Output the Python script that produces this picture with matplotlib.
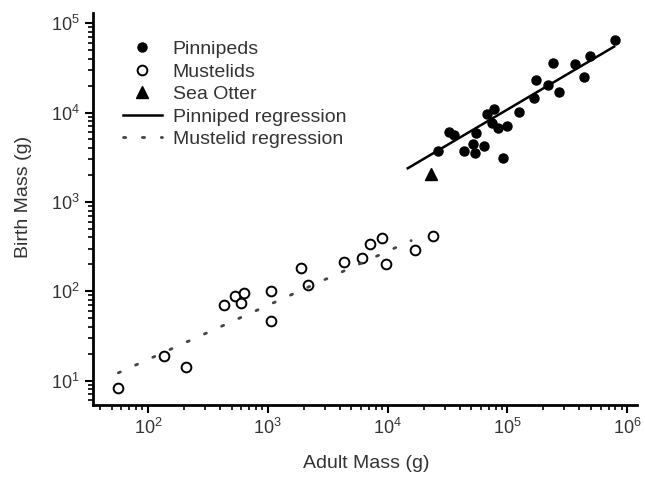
import matplotlib
matplotlib.use("Agg")
import matplotlib.pyplot as plt

plt.rcParams["font.family"] = ["Liberation Sans", "DejaVu Sans"]
plt.rcParams["mathtext.default"] = "regular"

# valores (g)
pinniped_adult = [26240, 32420, 35690, 43230, 52090, 54120, 63460, 54830,
                  67220, 77930, 74560, 83000, 99430, 92600, 125900, 167900,
                  173400, 216700, 267600, 241700, 368800, 438200, 488700, 794300]
pinniped_birth = [3750, 6120, 5620, 3750, 4470, 3560, 4270, 5970,
                  9660, 10990, 7730, 6680, 7100, 3080, 10050, 14500,
                  23200, 20400, 17200, 35700, 34800, 25300, 43500, 64700]

mustelid_adult = [56.6, 136, 206, 432, 531, 596, 635, 1059, 1059,
                  1884, 2167, 4323, 6152, 7079, 9034, 9750, 17120, 23860]
mustelid_birth = [8.3, 19, 14.2, 70, 89, 73, 95, 101, 46,
                  184, 116, 211, 238, 339, 398, 202, 288, 416]

otter_adult = [23120]
otter_birth = [2060]

# extremos das retas de regressao
pinniped_fit_x = [14760, 779800]
pinniped_fit_y = [2380, 54800]
mustelid_fit_x = [56.6, 15760]
mustelid_fit_y = [12.2, 369]

fig = plt.figure(figsize=(6.45, 4.8), dpi=100)
ax = fig.add_axes([0.1442, 0.15625, 0.8434, 0.8165])

ax.plot(pinniped_adult, pinniped_birth, "o", color="black", markersize=6.5,
        linestyle="none", label="Pinnipeds")
ax.plot(mustelid_adult, mustelid_birth, "o", markerfacecolor="white",
        markeredgecolor="black", markeredgewidth=1.4, markersize=7,
        linestyle="none", label="Mustelids")
ax.plot(otter_adult, otter_birth, "^", color="black", markersize=9,
        linestyle="none", label="Sea Otter")
ax.plot(pinniped_fit_x, pinniped_fit_y, "-", color="black", linewidth=1.8,
        label="Pinniped regression")
ax.plot(mustelid_fit_x, mustelid_fit_y, color="#444444", linewidth=2,
        linestyle=(0, (0.8, 6)), dash_capstyle="round",
        label="Mustelid regression")

ax.set_xscale("log")
ax.set_yscale("log")
ax.set_xlim(34.8, 1.21e6)
ax.set_ylim(5.33, 1.3e5)

ax.spines["top"].set_visible(False)
ax.spines["right"].set_visible(False)
ax.spines["left"].set_linewidth(2)
ax.spines["bottom"].set_linewidth(2)
ax.tick_params(which="major", length=6, width=1.5, labelsize=13,
               labelcolor="#333333", direction="out")
ax.tick_params(which="minor", length=3.5, width=1.2, direction="out")

ax.set_xlabel("Adult Mass (g)", fontsize=14, color="#333333")
ax.set_ylabel("Birth Mass (g)", fontsize=14, color="#333333")
ax.xaxis.set_label_coords(0.503, -0.128)
ax.yaxis.set_label_coords(-0.113, 0.531)

leg = ax.legend(loc="upper left", bbox_to_anchor=(0.055, 0.93), frameon=False,
                fontsize=14, handlelength=2.0, handletextpad=0.55,
                labelspacing=0.25, borderpad=0, borderaxespad=0)
for t in leg.get_texts():
    t.set_color("#333333")

fig.savefig("out.png", dpi=100)
